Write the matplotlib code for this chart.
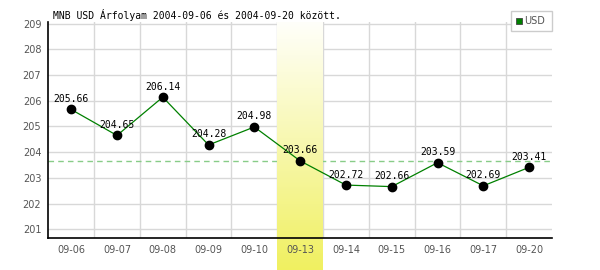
import matplotlib
matplotlib.use("Agg")
import matplotlib.pyplot as plt
import numpy as np
from matplotlib.patches import Rectangle
from matplotlib.colors import LinearSegmentedColormap

dates = ["09-06", "09-07", "09-08", "09-09", "09-10", "09-13",
         "09-14", "09-15", "09-16", "09-17", "09-20"]
values = [205.66, 204.65, 206.14, 204.28, 204.98, 203.66,
          202.72, 202.66, 203.59, 202.69, 203.41]
yticks = [201, 202, 203, 204, 205, 206, 207, 208, 209]
highlight_index = 5
ref_value = 203.66
title = "MNB USD Árfolyam 2004-09-06 és 2004-09-20 között."
series_name = "USD"

fig = plt.figure(figsize=(6, 2.7), dpi=100)
fig.patch.set_facecolor("white")
ax = fig.add_axes([48.3 / 600, 1 - 238.3 / 270, (552 - 48.3) / 600, (238.3 - 22.3) / 270])

x = np.arange(len(dates))

# grid
for yv in yticks:
    ax.axhline(yv, color="#d8d8d8", lw=1, zorder=1)
for b in np.arange(0.5, len(dates) - 0.5, 1):
    ax.axvline(b, color="#d8d8d8", lw=1, zorder=1)

# reference dashed line
ax.axhline(ref_value, color="#88cc88", lw=1, ls=(0, (4, 3)), zorder=2)

# highlight band with gradient
cmap = LinearSegmentedColormap.from_list("hl", ["#fffffa", "#f0f060"])
grad = np.linspace(0, 1, 256).reshape(-1, 1)
ax.imshow(grad, cmap=cmap, aspect="auto", origin="upper",
          extent=(highlight_index - 0.5, highlight_index + 0.5, -32 / 216, 1.0),
          transform=ax.get_xaxis_transform(), clip_on=False, zorder=3,
          interpolation="bilinear")

# series
ax.plot(x, values, color="#008000", lw=0.9, zorder=5)
ax.plot(x, values, "o", color="black", ms=6, zorder=6)
for xi, v in zip(x, values):
    ax.annotate(f"{v:.2f}", (xi, v), xytext=(0, 4), textcoords="offset points",
                ha="center", va="bottom", fontsize=7, family="DejaVu Sans Mono",
                color="black", zorder=7)

ax.set_xlim(-0.5, len(dates) - 0.5)
ax.set_ylim(200.65, 209.05)
ax.set_xticks(x)
ax.set_xticklabels(dates)
ax.set_yticks(yticks)
ax.tick_params(axis="both", length=0, labelsize=7, colors="#555555", pad=5)
for s in ["top", "right"]:
    ax.spines[s].set_visible(False)
for s in ["left", "bottom"]:
    ax.spines[s].set_color("black")
    ax.spines[s].set_linewidth(1.2)
    ax.spines[s].set_zorder(8)
ax.xaxis.set_zorder(9)
ax.yaxis.set_zorder(9)
ax.set_facecolor("white")

fig.text(53 / 600, 1 - 15 / 270, title, fontsize=7, family="DejaVu Sans Mono",
         ha="left", va="center", color="black")

# legend box
fig.patches.append(Rectangle((511 / 600, 1 - 31 / 270), 41 / 600, 20 / 270,
                             transform=fig.transFigure, facecolor="white",
                             edgecolor="#cccccc", lw=1, zorder=10))
fig.patches.append(Rectangle((516 / 600, 1 - 24 / 270), 6 / 600, 6 / 270,
                             transform=fig.transFigure, facecolor="#008000",
                             edgecolor="#444444", lw=0.6, zorder=11))
fig.text(524 / 600, 1 - 21 / 270, series_name, fontsize=7, color="#555555",
         ha="left", va="center", zorder=12)

fig.savefig("out.png", dpi=100)
